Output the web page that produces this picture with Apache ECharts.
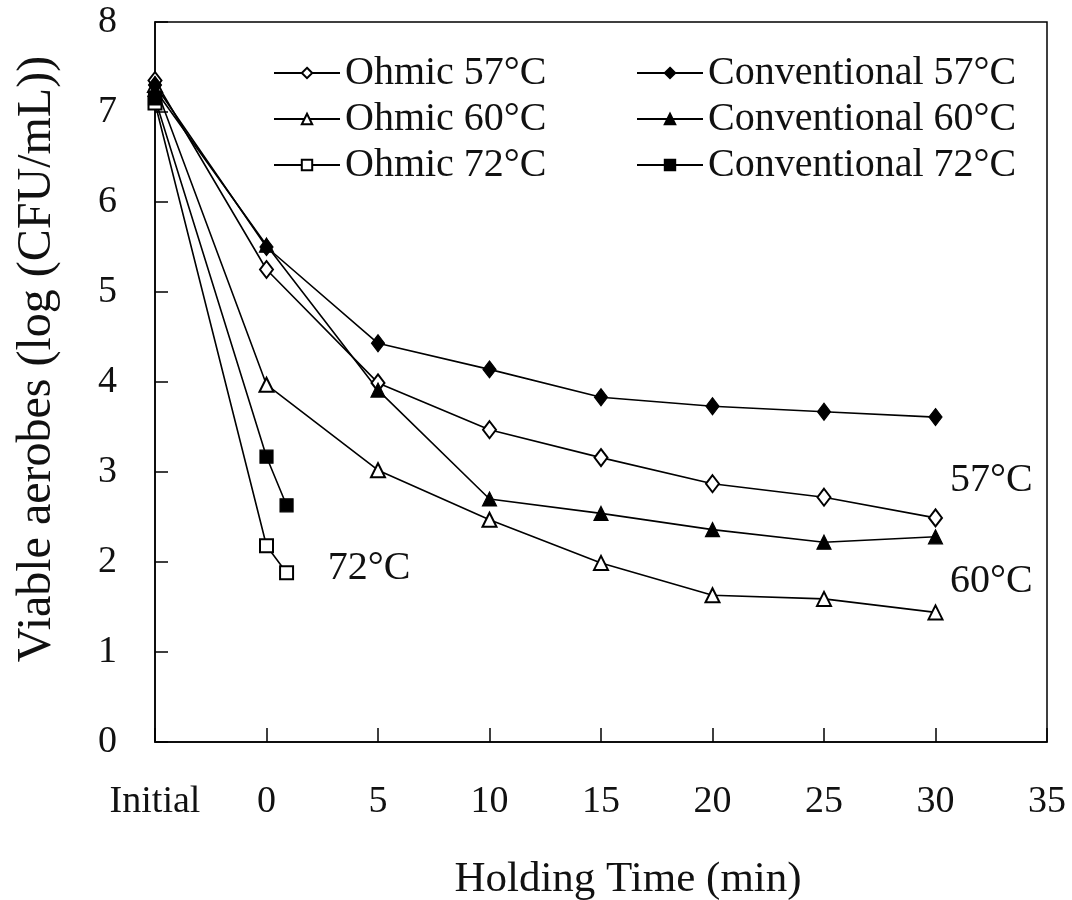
<!DOCTYPE html>
<html>
<head>
<meta charset="utf-8">
<script src="https://cdn.jsdelivr.net/npm/echarts@6/dist/echarts.min.js"></script>
<style>
  html, body { margin: 0; padding: 0; background: #fff; }
  #chart { width: 1072px; height: 900px; }
</style>
</head>
<body>
<div id="chart"></div>
<script>
// holding times ("Initial" sits at -5 on the axis)
var timesLong = [-5, 0, 5, 10, 15, 20, 25, 30];
var times72 = [-5, 0, 0.9];

// log CFU/mL
var ohmic57 = [7.35, 5.25, 3.99, 3.47, 3.16, 2.87, 2.72, 2.49];
var conv57 = [7.3, 5.5, 4.43, 4.14, 3.83, 3.73, 3.67, 3.61];
var ohmic60 = [7.3, 3.97, 3.02, 2.47, 1.99, 1.63, 1.59, 1.44];
var conv60 = [7.25, 5.52, 3.91, 2.7, 2.54, 2.36, 2.22, 2.28];
var ohmic72 = [7.1, 2.18, 1.88];
var conv72 = [7.15, 3.17, 2.63];

// temperature notes placed in data space
var noteX = [32.5, 32.5, 4.6];
var noteY = [2.91, 1.78, 1.93];
var noteText = ['57°C', '60°C', '72°C'];

var FONT = 'Liberation Serif';

function pairs(xs, ys) {
    return ys.map(function(v, i) { return [xs[i], v]; });
}

function lineSeries(name, xs, ys, symbol, size) {
    return {
        name: name,
        type: 'line',
        data: pairs(xs, ys),
        symbol: symbol,
        symbolSize: size,
        showAllSymbol: true,
        lineStyle: { color: '#000', width: 1.6 },
        itemStyle: { color: '#000', borderColor: '#000', borderWidth: 1.2 },
        emphasis: { disabled: true },
        z: 3
    };
}

var chart = echarts.init(document.getElementById('chart'));

var legendText = { fontFamily: FONT, fontSize: 40, color: '#111' };

var option = {
    animation: false,
    backgroundColor: '#fff',
    grid: {
        left: 155,
        right: 25,
        top: 22,
        bottom: 158,
        containLabel: false,
        outerBoundsMode: 'none',
        show: true,
        borderColor: '#000',
        borderWidth: 1.5
    },
    legend: [{
        orient: 'vertical',
        left: 268,
        top: 48,
        itemWidth: 66,
        itemHeight: 13,
        itemGap: 6,
        textStyle: legendText,
        data: ['Ohmic 57°C', 'Ohmic 60°C', 'Ohmic 72°C']
    }, {
        orient: 'vertical',
        left: 631,
        top: 48,
        itemWidth: 66,
        itemHeight: 13,
        itemGap: 6,
        textStyle: legendText,
        data: ['Conventional 57°C', 'Conventional 60°C', 'Conventional 72°C']
    }],
    xAxis: {
        type: 'value',
        min: -5,
        max: 35,
        interval: 5,
        name: 'Holding Time (min)',
        nameLocation: 'middle',
        nameGap: 116,
        nameTextStyle: { fontFamily: FONT, fontSize: 43, color: '#111', padding: [0, 0, 0, 54] },
        axisLine: { onZero: false, lineStyle: { color: '#000', width: 1.5 } },
        axisTick: { inside: true, length: 14, lineStyle: { color: '#000', width: 1.5 } },
        axisLabel: {
            fontFamily: FONT, fontSize: 38, color: '#111', margin: 41,
            formatter: function(v) { return v === -5 ? 'Initial' : v; }
        },
        splitLine: { show: false }
    },
    yAxis: {
        type: 'value',
        min: 0,
        max: 8,
        interval: 1,
        name: 'Viable aerobes (log (CFU/mL))',
        nameLocation: 'middle',
        nameGap: 94,
        nameTextStyle: { fontFamily: FONT, fontSize: 48, color: '#111', padding: [0, 0, 0, 46] },
        axisLine: { onZero: false, lineStyle: { color: '#000', width: 1.5 } },
        axisTick: { inside: true, length: 13, lineStyle: { color: '#000', width: 1.5 } },
        axisLabel: { fontFamily: FONT, fontSize: 38, color: '#111', margin: 38 },
        splitLine: { show: false }
    },
    series: [
        lineSeries('Ohmic 57°C', timesLong, ohmic57, 'emptyDiamond', [13, 17]),
        lineSeries('Ohmic 60°C', timesLong, ohmic60, 'emptyTriangle', 14),
        lineSeries('Ohmic 72°C', times72, ohmic72, 'emptyRect', 13),
        lineSeries('Conventional 57°C', timesLong, conv57, 'diamond', [13, 17]),
        lineSeries('Conventional 60°C', timesLong, conv60, 'triangle', 14),
        lineSeries('Conventional 72°C', times72, conv72, 'rect', 13),
        {
            name: 'notes',
            type: 'scatter',
            silent: true,
            symbolSize: 0,
            itemStyle: { opacity: 1 },
            data: pairs(noteX, noteY).map(function(p, i) {
                return { value: p, name: noteText[i] };
            }),
            label: {
                show: true,
                position: 'inside',
                formatter: '{b}',
                fontFamily: FONT,
                fontSize: 40,
                color: '#111',
                opacity: 1
            }
        }
    ]
};

chart.setOption(option);

window.addEventListener('resize', function() {
    chart.resize();
});
</script>
</body>
</html>
